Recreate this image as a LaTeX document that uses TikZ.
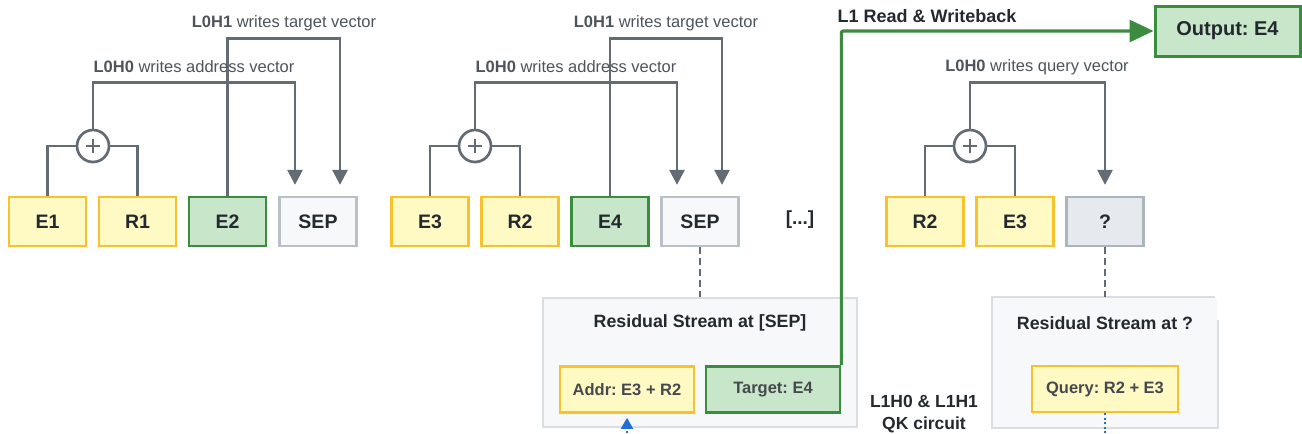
\documentclass[tikz,border=0pt]{standalone}
\usepackage{fontspec}
\setmainfont{Liberation Sans}
\usetikzlibrary{arrows.meta,calc}
\frenchspacing

\definecolor{cgray}{HTML}{636B74}
\definecolor{ctext}{HTML}{24292F}
\definecolor{clabel}{HTML}{4D545C}
\definecolor{yfill}{HTML}{FFF9C4}
\definecolor{ydraw}{HTML}{F8C22E}
\definecolor{gfill}{HTML}{C8E6C9}
\definecolor{gdraw}{HTML}{3B8C3F}
\definecolor{sfill}{HTML}{F6F8FA}
\definecolor{sdraw}{HTML}{B9C0C8}
\definecolor{qfill}{HTML}{E6EAEE}
\definecolor{qdraw}{HTML}{ACB4BC}
\definecolor{rdraw}{HTML}{D9DEE3}
\definecolor{cblue}{HTML}{1F6FD6}

\begin{document}
\begin{tikzpicture}[x=1pt,y=-1pt,
  tok/.style={minimum width=77pt, minimum height=49pt, inner sep=0pt,
    line width=2.7pt, text=ctext, font=\bfseries\fontsize{19.5}{22}\selectfont},
  ytok/.style={tok, fill=yfill, draw=ydraw},
  gtok/.style={tok, fill=gfill, draw=gdraw},
  septok/.style={tok, fill=sfill, draw=sdraw, line width=2.3pt},
  qtok/.style={tok, fill=qfill, draw=qdraw, line width=2.3pt},
  plus/.style={circle, draw=cgray, line width=2.7pt, fill=white,
    minimum size=32pt, inner sep=0pt,
    path picture={\draw[cgray, line width=2.7pt]
      ([xshift=-7pt]path picture bounding box.center) -- ([xshift=7pt]path picture bounding box.center)
      ([yshift=-7pt]path picture bounding box.center) -- ([yshift=7pt]path picture bounding box.center);}},
  conn/.style={draw=cgray, line width=2.7pt},
  carrow/.style={conn, -{Triangle[length=15pt,width=15pt]}},
  lbl/.style={text=clabel, font=\fontsize{16.5}{20}\selectfont, inner sep=0pt},
  resbox/.style={fill=sfill, draw=rdraw, line width=2.2pt, minimum height=129pt, inner sep=0pt},
  restitle/.style={text=ctext, font=\bfseries\fontsize{17.8}{21}\selectfont, inner sep=0pt},
  slot/.style={minimum height=46pt, inner sep=0pt, line width=2.7pt,
    text=ctext!85!white, font=\bfseries\fontsize{16.5}{20}\selectfont},
  gline/.style={draw=gdraw, line width=3.2pt, rounded corners=2pt,
    -{Triangle[length=24pt,width=22pt]}},
  dashconn/.style={draw=cgray, line width=2.8pt, dash pattern=on 7pt off 4pt},
  bluedot/.style={draw=cblue, line width=2.2pt, dash pattern=on 2pt off 2.5pt},
]
\useasboundingbox (0,0) rectangle (1302,434);
\clip (0,0) rectangle (1302,434);

% ---------- first fact: E1 R1 E2 [SEP] ----------
\node[ytok] (e1) at (47.5,221.5) {E1};
\node[ytok] (r1) at (137.5,221.5) {R1};
\node[gtok] (e2) at (227.5,221.5) {E2};
\node[septok] (sep1) at (318,221.5) {SEP};
\node[plus] (p1) at (93,146) {};

\draw[conn] (e1.north) |- (p1.west);
\draw[conn] (r1.north) |- (p1.east);
\draw[carrow, shorten >=11pt] (p1.north) -- ++(0,-46) -| ([xshift=-23pt]sep1.north);
\draw[carrow, shorten >=11pt] (e2.north) -- ++(0,-157) -| ([xshift=22pt]sep1.north);
\node[lbl] (l1a) at (194,67) {\textbf{L0H0} writes address vector};
\node[lbl] (l1b) at (284,23) {\textbf{L0H1} writes target vector};

% ---------- second fact: E3 R2 E4 [SEP] ----------
\node[ytok] (e3) at (430,221.5) {E3};
\node[ytok] (r2) at (520,221.5) {R2};
\node[gtok] (e4) at (610,221.5) {E4};
\node[septok] (sep2) at (700,221.5) {SEP};
\node[plus] (p2) at (475,146) {};

\draw[conn] (e3.north) |- (p2.west);
\draw[conn] (r2.north) |- (p2.east);
\draw[carrow, shorten >=11pt] (p2.north) -- ++(0,-46) -| ([xshift=-23pt]sep2.north);
\draw[carrow, shorten >=11pt] (e4.north) -- ++(0,-157) -| ([xshift=22pt]sep2.north);
\node[lbl] (l2a) at (576,67) {\textbf{L0H0} writes address vector};
\node[lbl] (l2b) at (666,23) {\textbf{L0H1} writes target vector};

\node[text=ctext, font=\bfseries\fontsize{19}{22}\selectfont] (dots) at (800,220) {[...]};

% ---------- query: R2 E3 ? ----------
\node[ytok] (r2q) at (925,221.5) {R2};
\node[ytok] (e3q) at (1015,221.5) {E3};
\node[qtok] (q) at (1105,221.5) {?};
\node[plus] (p3) at (970,146) {};

\draw[conn] (r2q.north) |- (p3.west);
\draw[conn] (e3q.north) |- (p3.east);
\draw[carrow, shorten >=11pt] (p3.north) -- ++(0,-46) -| (q.north);
\node[lbl] (l3a) at (1037,67) {\textbf{L0H0} writes query vector};

% ---------- residual stream at [SEP] ----------
\node[resbox, minimum width=314pt] (res1) at (700,362.5) {};
\node[restitle] (res1t) at (700,323) {Residual Stream at [SEP]};
\node[slot, minimum width=134pt, fill=yfill, draw=ydraw] (addr) at (627,389.5) {Addr: E3 + R2};
\node[slot, minimum width=134pt, fill=gfill, draw=gdraw] (tgt) at (773,389.5) {Target: E4};
\draw[dashconn] (sep2.south) -- (res1.north);

% ---------- residual stream at ? ----------
\node[resbox, minimum width=224pt, draw=none] (res2) at (1105,362.5) {};
\draw[draw=rdraw, line width=2.2pt]
  ([xshift=-3pt]res2.north east) -- (res2.north west) -- (res2.south west)
  -- (res2.south east) -- ([yshift=-23pt]res2.north east);
\node[restitle] (res2t) at (1105,323) {Residual Stream at ?};
\node[slot, minimum width=146pt, fill=yfill, draw=ydraw] (query) at (1105,389) {Query: R2 + E3};
\draw[dashconn] (q.south) -- (res2.north);

% ---------- layer 1 ----------
\node[text=ctext, font=\bfseries\fontsize{17.5}{22}\selectfont, align=center, inner sep=0pt]
  (qk) at (924,414) {L1H0 \& L1H1\\QK circuit};
\coordinate (qkA) at (627,460);
\coordinate (qkQ) at (1105,460);
\draw[bluedot] (query.south) -- (qkQ);
\draw[bluedot] (qkA) -- ([yshift=-14pt]addr.south);
\draw[draw=cblue, line width=2pt, -{Triangle[length=11pt,width=12pt]}, shorten >=4pt]
  ([yshift=-14pt]addr.south) -- (addr.south);

\node[gtok, minimum width=145pt, minimum height=50pt, line width=3pt,
  font=\bfseries\fontsize{20}{24}\selectfont] (out) at (1227.5,31) {Output: E4};
\draw[gline] (tgt.north east) |- (out.west);
\node[text=ctext, font=\bfseries\fontsize{18}{22}\selectfont, inner sep=0pt] (l1rw) at (927,16) {L1 Read \& Writeback};
\end{tikzpicture}
\end{document}
